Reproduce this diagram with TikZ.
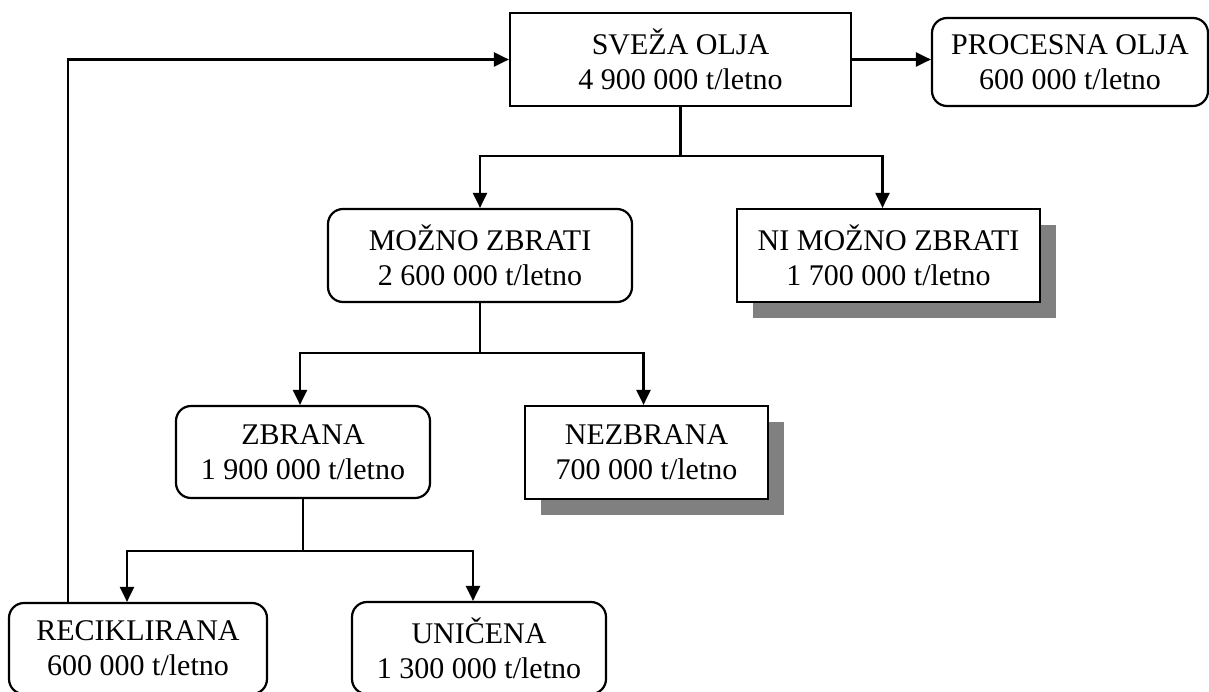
\documentclass[tikz,border=0pt]{standalone}
\usepackage{fontspec}
\setmainfont{Liberation Serif}
\usetikzlibrary{arrows.meta,shadows}
\tikzset{
  flow box/.style={
    draw=black,
    fill=white,
    line width=1.1pt,
    align=center,
    inner sep=0pt,
    font=\fontsize{15}{17.5}\selectfont
  },
  soft box/.style={flow box,rounded corners=7.5pt},
  shade box/.style={flow box,
    drop shadow={shadow xshift=8pt,shadow yshift=-8pt,fill=black!50,opacity=1}},
  link/.style={line width=1.1pt},
  flow/.style={-{Triangle[length=7.5pt,width=7pt]},line width=1.1pt}
}

\begin{document}
\begin{tikzpicture}[x=0.5pt,y=-0.5pt]
  \useasboundingbox (0,0) rectangle (1209,691);

  \node[flow box,minimum width=170.5pt,minimum height=46.5pt] (sveza) at (680.5,59.5)
    {SVEŽA OLJA\\4 900 000 t/letno};
  \node[soft box,minimum width=138pt,minimum height=44pt] (proc) at (1070,62)
    {PROCESNA OLJA\\600 000 t/letno};
  \node[soft box,minimum width=152pt,minimum height=46.5pt] (mozno) at (480,255.5)
    {MOŽNO ZBRATI\\2 600 000 t/letno};
  \node[shade box,minimum width=151.5pt,minimum height=46.5pt] (nimozno) at (888.5,255.5)
    {NI MOŽNO ZBRATI\\1 700 000 t/letno};
  \node[soft box,minimum width=127pt,minimum height=46pt] (zbrana) at (303,452)
    {ZBRANA\\1 900 000 t/letno};
  \node[shade box,minimum width=121.5pt,minimum height=46.5pt] (nezbrana) at (646.5,452.5)
    {NEZBRANA\\700 000 t/letno};
  \node[soft box,minimum width=129pt,minimum height=45.5pt] (recikl) at (138,648.5)
    {RECIKLIRANA\\600 000 t/letno};
  \node[soft box,minimum width=127pt,minimum height=46pt] (unicena) at (479,648)
    {UNIČENA\\1 300 000 t/letno};

  % top level
  \draw[flow] (sveza.east) -- (sveza.east -| proc.west);
  \draw[link] (sveza.south) -- ++(0,49) coordinate (bus1);
  \draw[flow] (bus1) -| (mozno.north);
  \draw[flow] (bus1) -| ([xshift=-3pt]nimozno.north);

  % collected / not collected
  \draw[link] (mozno.south) -- ++(0,50) coordinate (bus2);
  \draw[flow] (bus2) -| ([xshift=-1.5pt]zbrana.north);
  \draw[flow] (bus2) -| ([xshift=-1.5pt]nezbrana.north);

  % recycled / destroyed
  \draw[link] (zbrana.south) -- ++(0,52) coordinate (bus3);
  \draw[flow] (bus3) -| ([xshift=-5.5pt]recikl.north);
  \draw[flow] (bus3) -| ([xshift=-3pt]unicena.north);

  % back to fresh oil
  \draw[flow] ([xshift=-35pt]recikl.north) |- (sveza.west);
\end{tikzpicture}
\end{document}
